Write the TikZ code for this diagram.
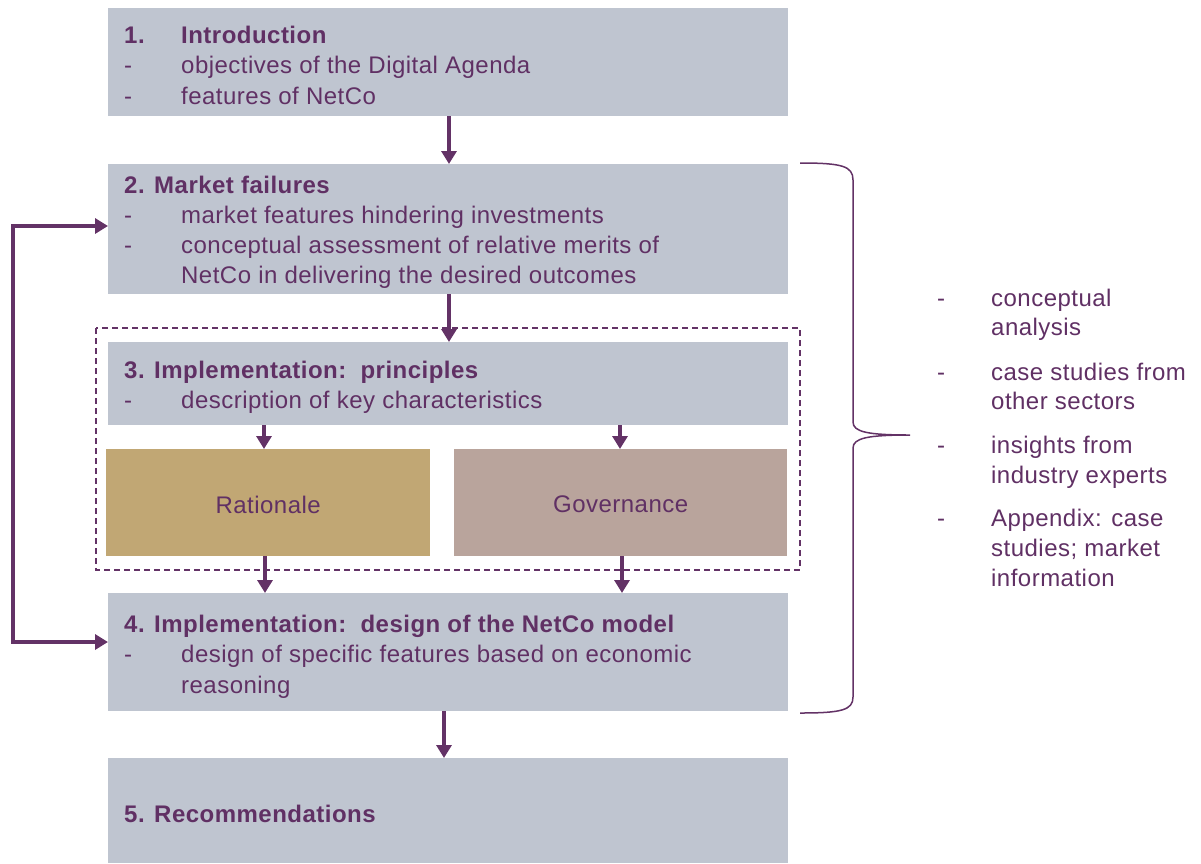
\documentclass[tikz,border=0pt]{standalone}
\usepackage{fontspec}
\setmainfont[LetterSpace=2.0]{Liberation Sans}
\usetikzlibrary{arrows.meta}
\definecolor{boxc}{RGB}{191,197,208}
\definecolor{ratc}{RGB}{193,167,116}
\definecolor{govc}{RGB}{185,164,156}
\definecolor{tc}{RGB}{96,48,100}
\definecolor{ac}{RGB}{99,50,102}
\tikzset{
  box/.style={fill=boxc, draw=none, minimum width=680pt, inner sep=0, anchor=north west},
  txt/.style={anchor=base west, inner sep=0, text=tc, font=\fontsize{24}{29}\selectfont},
  btxt/.style={txt, font=\fontsize{24}{29}\selectfont\bfseries},
  tip/.style={},
  arr/.style={draw=ac, line width=3.6pt, -{Triangle[width=15pt,length=13pt]}},
}
\begin{document}
\begin{tikzpicture}[x=1pt,y=-1pt]
\useasboundingbox (0,0) rectangle (1201,863);
% boxes
\node[box, minimum height=108pt] (b1) at (108,8) {};
\node[box, minimum height=130pt] (b2) at (108,164) {};
\node[box, minimum height=83pt] (b3) at (108,342) {};
\node[box, fill=ratc, minimum width=324pt, minimum height=107pt] (rat) at (106,449) {};
\node[box, fill=govc, minimum width=333pt, minimum height=107pt] (gov) at (454,449) {};
\node[box, minimum height=118pt] (b4) at (108,593) {};
\node[box, minimum height=105pt] (b5) at (108,758) {};
% dashed group
\draw[ac, line width=1.3pt, dash pattern=on 6pt off 4pt] (96,328) rectangle (800,570);
% box 1 text
\node[btxt] (t1n) at (124,43) {1.};
\node[btxt] (t1) at (181,43) {Introduction};
\node[txt] (d1a) at (124,73) {-};
\node[txt] (t1a) at (181,73) {objectives of the Digital Agenda};
\node[txt] (d1b) at (124,104) {-};
\node[txt] (t1b) at (181,104) {features of NetCo};
% box 2 text
\node[btxt] (t2) at (124,193) {2. Market failures};
\node[txt] (d2a) at (124,223) {-};
\node[txt] (t2a) at (181,223) {market features hindering investments};
\node[txt] (d2b) at (124,253) {-};
\node[txt] (t2b) at (181,253) {conceptual assessment of relative merits of};
\node[txt] (t2c) at (181,283) {NetCo in delivering the desired outcomes};
% box 3 text
\node[btxt] (t3) at (124,378) {3. Implementation:\ \ principles};
\node[txt] (d3a) at (124,408) {-};
\node[txt] (t3a) at (181,408) {description of key characteristics};
% rationale / governance
\node[txt, anchor=center] (trat) at ([yshift=-2pt]rat.center) {Rationale};
\node[txt, anchor=center] (tgov) at ([yshift=-2pt]gov.center) {Governance};
% box 4 text
\node[btxt] (t4) at (124,632) {4. Implementation:\ \ design of the NetCo model};
\node[txt] (d4a) at (124,662) {-};
\node[txt] (t4a) at (181,662) {design of specific features based on economic};
\node[txt] (t4b) at (181,693) {reasoning};
% box 5 text
\node[btxt] (t5) at (124,822) {5. Recommendations};
% right list
\node[txt] (r1d) at (937,306) {-};
\node[txt] (r1a) at (991,306) {conceptual};
\node[txt] (r1b) at (991,335) {analysis};
\node[txt] (r2d) at (937,380) {-};
\node[txt] (r2a) at (991,380) {case studies from};
\node[txt] (r2b) at (991,409) {other sectors};
\node[txt] (r3d) at (937,453) {-};
\node[txt] (r3a) at (991,453) {insights from};
\node[txt] (r3b) at (991,483) {industry experts};
\node[txt] (r4d) at (937,526) {-};
\node[txt] (r4a) at (991,526) {Appendix: case};
\node[txt] (r4b) at (991,556) {studies; market};
\node[txt] (r4c) at (991,586) {information};
% arrows
\draw[arr] (b1.south -| 449,0) -- (b2.north -| 449,0);
\draw[arr] (b2.south -| 449,0) -- (b3.north -| 449,0);
\draw[arr] (b3.south -| 264,0) -- (rat.north -| 264,0);
\draw[arr] (b3.south -| 620,0) -- (gov.north -| 620,0);
\draw[arr] (rat.south -| 265,0) -- (b4.north -| 265,0);
\draw[arr] (gov.south -| 622,0) -- (b4.north -| 622,0);
\draw[arr] (b4.south -| 444,0) -- (b5.north -| 444,0);
% feedback loop
\coordinate (lt) at (13,226);
\coordinate (lb) at (13,642);
\draw[arr, {Triangle[width=15pt,length=13pt]}-{Triangle[width=15pt,length=13pt]}] (b4.west |- lb) -- (lb) -- (lt) -- (b2.west |- lt);
% brace
\coordinate (brtip) at (910,435);
\draw[ac, line width=1.5pt] (800,163) .. controls (842,163) and (853,166) .. (853,180) -- (853,422)
  .. controls (853,432) and (868,435) .. (brtip)
  .. controls (868,435) and (853,438) .. (853,448) -- (853,697)
  .. controls (853,710) and (842,713) .. (800,713);
\end{tikzpicture}
\end{document}
